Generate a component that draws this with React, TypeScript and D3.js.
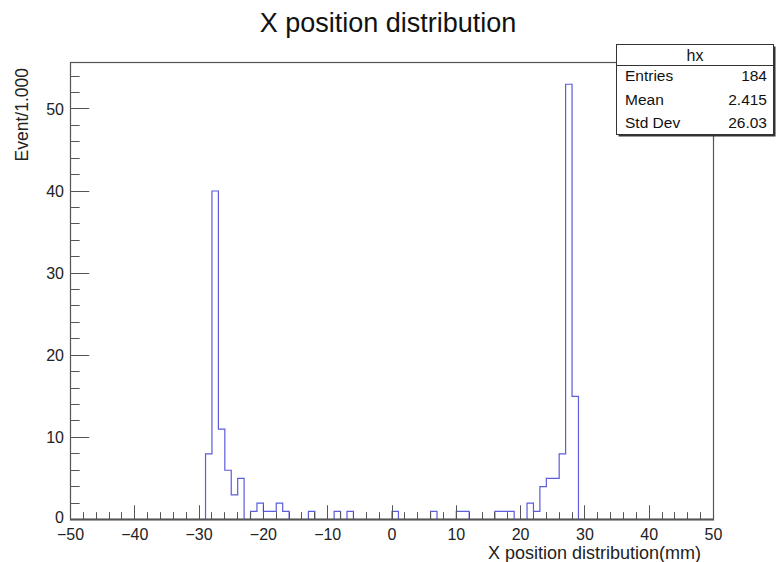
import React from "react";
import * as d3 from "d3";

// ---- data ----
const xMin = -50;
const xMax = 50;
const binWidth = 1;
const binStarts = [-29, -28, -27, -26, -25, -24, -22, -21, -20, -19, -18, -17, -13, -9, -7, 0, 6, 10, 11, 16, 17, 18, 21, 22, 23, 24, 25, 26, 27, 28];
const binCounts = [8, 40, 11, 6, 3, 5, 1, 2, 1, 1, 2, 1, 1, 1, 1, 1, 1, 1, 1, 1, 1, 1, 2, 1, 4, 5, 5, 8, 53, 15];
const xTickLabels = [-50, -40, -30, -20, -10, 0, 10, 20, 30, 40, 50];
const yTickLabels = [0, 10, 20, 30, 40, 50];
const statNames = ["Entries", "Mean", "Std Dev"];
const statValues = ["184", "2.415", "26.03"];
const histName = "hx";
const titleText = "X position distribution";
const xTitle = "X position distribution(mm)";
const yTitle = "Event/1.000";

const W = 776;
const H = 562;
const FL = 70, FR = 713, FT = 62, FB = 519;
const FONT = "'Liberation Sans', Arial, Helvetica, sans-serif";

export default function App() {
  const nBins = Math.round((xMax - xMin) / binWidth);
  const counts = new Array(nBins).fill(0);
  binStarts.forEach((s, i) => {
    counts[Math.round((s - xMin) / binWidth)] = binCounts[i];
  });
  const yMaxVal = (d3.max(counts) as number) * 1.05;

  const x = d3.scaleLinear().domain([xMin, xMax]).range([FL + 0.5, FR + 0.5]);
  const y = d3.scaleLinear().domain([0, yMaxVal]).range([FB + 0.5, FT + 0.5]);

  const pts: [number, number][] = [[x(xMin), y(0)]];
  counts.forEach((c, i) => {
    const lo = xMin + i * binWidth;
    pts.push([x(lo), y(c)]);
    pts.push([x(lo + binWidth), y(c)]);
  });
  pts.push([x(xMax), y(0)]);
  const path = d3.line()(pts) as string;

  const xMinor = d3.range(xMin, xMax + 0.001, 2);
  const yMinor = d3.range(0, yMaxVal, 2);
  const xMajLen = 0.03 * (FB - FT);
  const yMajLen = 0.03 * (FR - FL);

  const fmt = (v: number) => (v < 0 ? "\u2212" + Math.abs(v) : String(v));

  const bx = 616.5, by = 44.5, bw = 157, bh = 90;
  const rowYs = [81, 105, 128];

  return (
    <svg width={W} height={H} style={{ position: "absolute", left: 0, top: 0, background: "#fff" }} fontFamily={FONT}>
      <rect x={0} y={0} width={W} height={H} fill="#fff" />
      <text x={388} y={32} textAnchor="middle" fontSize={27} fill="#111">{titleText}</text>

      <path d={path} fill="none" stroke="#5c5cdc" strokeWidth={1.2} />

      {/* frame */}
      <rect x={FL + 0.5} y={FT + 0.5} width={FR - FL} height={FB - FT} fill="none" stroke="#555" strokeWidth={1.2} />
      <line x1={FL} x2={FR + 1} y1={FB + 0.5} y2={FB + 0.5} stroke="#555" strokeWidth={1.8} />

      {/* x ticks */}
      {xMinor.map((v) => {
        const major = Math.abs(v % 10) < 1e-9;
        const len = major ? xMajLen : xMajLen / 2;
        return <line key={"xt" + v} x1={Math.round(x(v) - 0.5) + 0.5} x2={Math.round(x(v) - 0.5) + 0.5} y1={FB} y2={FB - len} stroke="#555" strokeWidth={1} />;
      })}
      {xTickLabels.map((v) => (
        <text key={"xl" + v} x={x(v)} y={540} textAnchor="middle" fontSize={16} fill="#222">{fmt(v)}</text>
      ))}

      {/* y ticks */}
      {yMinor.map((v) => {
        const major = Math.abs(v % 10) < 1e-9;
        const len = major ? yMajLen : yMajLen / 2;
        return <line key={"yt" + v} x1={FL} x2={FL + len} y1={Math.round(y(v) - 0.5) + 0.5} y2={Math.round(y(v) - 0.5) + 0.5} stroke="#555" strokeWidth={1} />;
      })}
      {yTickLabels.map((v) => (
        <text key={"yl" + v} x={64} y={v === 0 ? 523 : y(v) + 6} textAnchor="end" fontSize={16} fill="#222">{fmt(v)}</text>
      ))}

      <text x={701} y={559} textAnchor="end" fontSize={18} fill="#222">{xTitle}</text>
      <text transform={`translate(28,68) rotate(-90)`} textAnchor="end" fontSize={17.5} fill="#222">{yTitle}</text>

      {/* stats box */}
      <rect x={bx + 2} y={by + 2} width={bw} height={bh} fill="#333" />
      <rect x={bx} y={by} width={bw} height={bh} fill="#fff" stroke="#333" strokeWidth={1} />
      <line x1={bx} x2={bx + bw} y1={65.5} y2={65.5} stroke="#333" strokeWidth={1} />
      <text x={bx + bw / 2} y={61} textAnchor="middle" fontSize={16} fill="#111">{histName}</text>
      {statNames.map((n, i) => (
        <g key={n}>
          <text x={625} y={rowYs[i]} fontSize={15.5} fill="#111">{n}</text>
          <text x={767} y={rowYs[i]} textAnchor="end" fontSize={15.5} fill="#111">{statValues[i]}</text>
        </g>
      ))}
    </svg>
  );
}
